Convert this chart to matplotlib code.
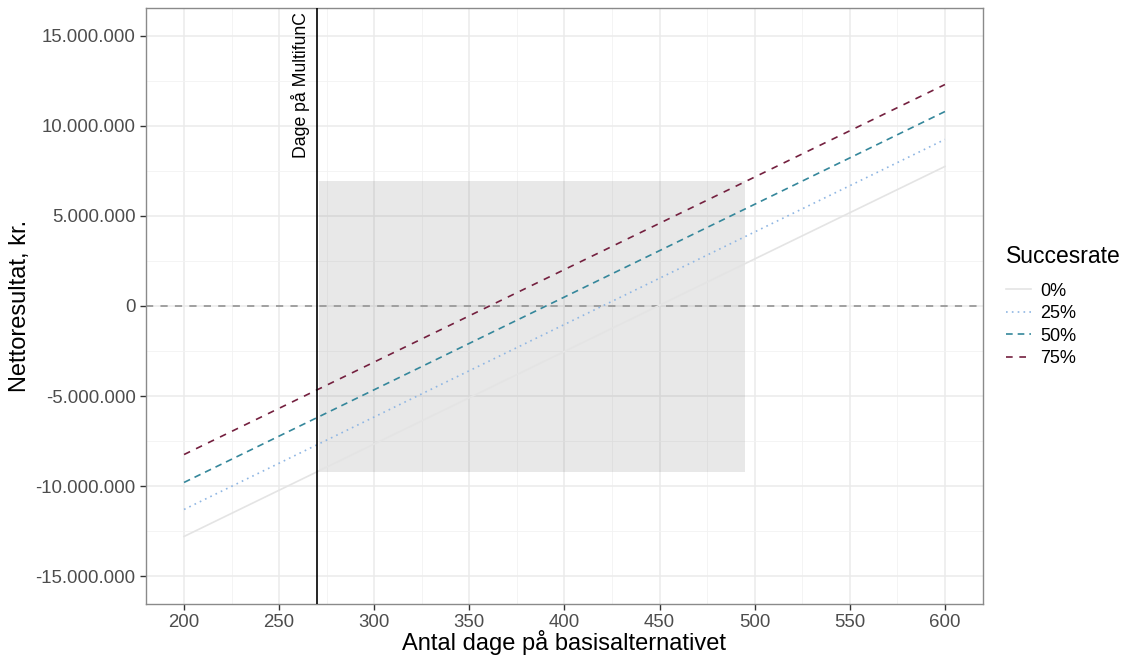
import matplotlib
matplotlib.use("Agg")
import matplotlib.pyplot as plt
from matplotlib.ticker import FuncFormatter, MultipleLocator
from matplotlib.lines import Line2D

plt.rcParams['font.family'] = ['Liberation Sans', 'DejaVu Sans']

# data (straight lines, end points)
days = [200, 600]
rate_labels = ['0%', '25%', '50%', '75%']
net_0 = [-12800000, 7750000]
net_25 = [-11300000, 9250000]
net_50 = [-9800000, 10800000]
net_75 = [-8250000, 12300000]

multifunc_days = 270
band_x = [271, 495]
band_y = [-9200000, 6950000]

colors = ['#e4e4e4', '#8fb6e3', '#35879b', '#74203f']
styles = ['-', (0, (1, 2.5)), (0, (4, 3)), (0, (4, 4))]

fig, ax = plt.subplots(figsize=(11.3, 6.56), dpi=100)
fig.subplots_adjust(left=0.1292, right=0.8699, top=0.9878, bottom=0.0793)

# grid like theme_bw
ax.set_axisbelow(True)
ax.xaxis.set_major_locator(MultipleLocator(50))
ax.xaxis.set_minor_locator(MultipleLocator(25))
ax.yaxis.set_major_locator(MultipleLocator(5000000))
ax.yaxis.set_minor_locator(MultipleLocator(2500000))
ax.grid(which='major', color='#ebebeb', linewidth=1.1)
ax.grid(which='minor', color='#f2f2f2', linewidth=0.6)

ax.fill_between(band_x, band_y[0], band_y[1], color='grey', alpha=0.18,
                linewidth=0, zorder=1)
ax.axhline(0, color='#9a9a9a', linewidth=1.3, linestyle=(0, (4, 4)), zorder=1.5)

series = [net_0, net_25, net_50, net_75]
handles = []
for vals, c, ls, lab in zip(series, colors, styles, rate_labels):
    ax.plot(days, vals, color=c, linestyle=ls, linewidth=1.2, zorder=2)
    handles.append(Line2D([], [], color=c, linestyle=ls, linewidth=1.2))

ax.axvline(multifunc_days, color='black', linewidth=1.2, zorder=3)
ax.text(261.3, 12280000, 'Dage på MultifunC', rotation=90, ha='center',
        va='center', fontsize=12.7, color='black')

ax.set_xlim(180, 620)
ax.set_ylim(-16550000, 16550000)
ax.yaxis.set_major_formatter(FuncFormatter(lambda v, p: f"{int(round(v)):,}".replace(',', '.')))

for s in ax.spines.values():
    s.set_color('#8a8a8a')
    s.set_linewidth(1.0)
ax.tick_params(which='major', length=4, color='#333333', labelcolor='#4d4d4d',
               labelsize=13.4, width=1)
ax.tick_params(which='minor', length=0)

ax.set_xlabel('Antal dage på basisalternativet', fontsize=17, labelpad=-1)
ax.set_ylabel('Nettoresultat, kr.', fontsize=17, labelpad=3)

leg = fig.legend(handles, rate_labels, title='Succesrate', loc='upper left',
                 bbox_to_anchor=(0.876, 0.652), frameon=False, fontsize=13,
                 title_fontsize=16.5, handlelength=1.4, handletextpad=0.5,
                 labelspacing=0.3, alignment='left')
leg._legend_box.sep = 11

fig.savefig('out.png', dpi=100)
